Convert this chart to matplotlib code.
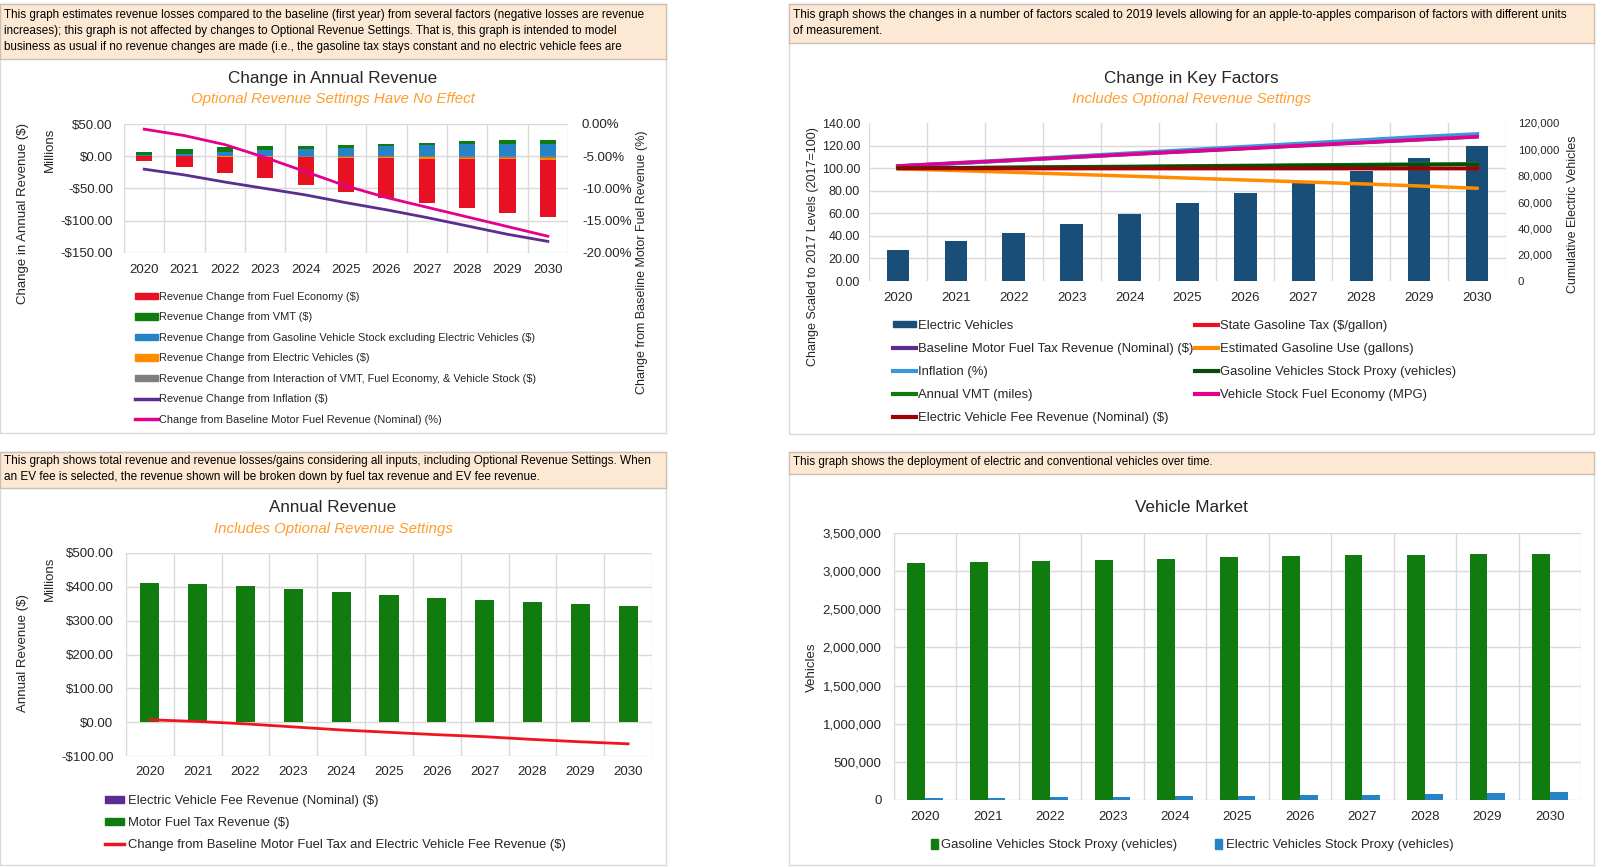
import matplotlib
matplotlib.use('Agg')
import matplotlib.pyplot as plt
from matplotlib.patches import Rectangle, Patch
from matplotlib.lines import Line2D
from matplotlib.ticker import FuncFormatter
import numpy as np

# ============== DATA ==============

years = ['2020', '2021', '2022', '2023', '2024', '2025', '2026', '2027', '2028', '2029', '2030']

# Change in Annual Revenue (millions $)
rev_fuel_economy = [-7.8, -15.6, -24.5, -33.0, -42.5, -52.5, -61.5, -68.5, -76.0, -83.0, -89.0]
rev_vmt = [4.5, 6.5, 7.5, 6.5, 4.5, 4.5, 3.5, 3.5, 4.5, 6.0, 6.0]
rev_stock = [2.5, 4.0, 6.5, 9.0, 11.0, 12.5, 15.5, 17.0, 18.5, 19.0, 19.0]
rev_ev = [0.0, -0.3, -0.6, -1.0, -1.3, -1.6, -1.8, -2.0, -2.3, -2.5, -2.7]
rev_interaction = [0.0, 0.0, -0.2, -0.3, -0.5, -0.8, -1.2, -1.6, -2.0, -2.4, -2.8]
rev_inflation = [-20, -29, -40, -50, -60, -72, -83, -95, -108, -121, -132]
pct_change_baseline = [-0.8, -1.8, -3.2, -5.2, -7.4, -9.6, -11.4, -12.9, -14.4, -15.9, -17.4]

# Change in Key Factors (2017 = 100) and cumulative EVs
ev_cumulative = [23600, 30700, 36800, 43600, 51200, 58900, 67200, 75600, 83700, 93100, 102500]
kf_state_tax = [100.0, 100.0, 100.0, 100.0, 100.0, 100.0, 100.0, 100.0, 100.0, 100.0, 100.0]
kf_baseline_rev = [101.8, 104.3, 106.9, 109.5, 112.1, 114.7, 117.3, 119.9, 122.5, 125.1, 127.7]
kf_gas_use = [99.4, 97.9, 96.3, 94.6, 92.9, 91.2, 89.5, 87.8, 86.1, 84.2, 82.2]
kf_inflation = [101.5, 104.4, 107.2, 110.1, 113.0, 115.9, 118.8, 121.7, 124.6, 127.5, 130.0]
kf_gas_stock = [100.0, 100.3, 100.6, 100.9, 101.2, 101.6, 102.0, 102.4, 102.5, 102.9, 103.2]
kf_vmt = [100.0, 100.4, 100.8, 101.2, 101.6, 102.0, 102.4, 102.8, 103.2, 103.6, 103.9]
kf_fuel_economy = [102.0, 104.5, 107.1, 109.7, 112.3, 114.9, 117.5, 120.1, 122.7, 125.3, 127.9]
kf_ev_fee = [100.0, 100.0, 100.0, 100.0, 100.0, 100.0, 100.0, 100.0, 100.0, 100.0, 100.0]

# Annual Revenue (millions $)
motor_fuel_tax_rev = [412, 409, 403, 394, 386, 377, 368, 362, 356, 350, 344]
ev_fee_rev = [0, 0, 0, 0, 0, 0, 0, 0, 0, 0, 0]
change_total_rev = [7, 2, -5, -14, -23, -30, -37, -43, -51, -58, -64]

# Vehicle Market
gas_vehicles = [3110000, 3124000, 3137000, 3150000, 3163000, 3189000, 3202000, 3215000, 3216000, 3229000, 3229000]
ev_vehicles = [22000, 26000, 34000, 38000, 47000, 56000, 62000, 72000, 76000, 86000, 100000]

notes = [
    "This graph estimates revenue losses compared to the baseline (first year) from several factors (negative losses are revenue\n"
    "increases); this graph is not affected by changes to Optional Revenue Settings. That is, this graph is intended to model\n"
    "business as usual if no revenue changes are made (i.e., the gasoline tax stays constant and no electric vehicle fees are",
    "This graph shows the changes in a number of factors scaled to 2019 levels allowing for an apple-to-apples comparison of factors with different units\n"
    "of measurement.",
    "This graph shows total revenue and revenue losses/gains considering all inputs, including Optional Revenue Settings. When\n"
    "an EV fee is selected, the revenue shown will be broken down by fuel tax revenue and EV fee revenue.",
    "This graph shows the deployment of electric and conventional vehicles over time.",
]

# ============== STYLE ==============

RED = '#E81123'
GREEN = '#107C10'
BLUE = '#2683C6'
ORANGE = '#FF8C00'
GRAY = '#7F7F7F'
PURPLE = '#5C2D91'
PINK = '#E3008C'
NAVY = '#184E77'
LIGHTBLUE = '#3A96DD'
DKGREEN = '#0A4A0A'
DKRED = '#A00000'
LINE_RED = '#F0141E'
GRID = '#D9D9D9'
SUB = '#FF9D2E'
TXT = '#262626'

plt.rcParams['font.family'] = ['Liberation Sans', 'DejaVu Sans']

W, H = 1599, 868
fig = plt.figure(figsize=(W / 100, H / 100), dpi=100)
x = np.arange(len(years))


def fx(px):
    return px / W


def fy(py):
    return 1 - py / H


def frac(l, t, r, b):
    return [l / W, 1 - b / H, (r - l) / W, (b - t) / H]


def rect(l, t, r, b, fc, ec, z):
    fig.patches.append(Rectangle((fx(l), fy(b)), (r - l) / W, (b - t) / H,
                                 transform=fig.transFigure, facecolor=fc,
                                 edgecolor=ec, lw=1, zorder=z))


def dollars(v, pos):
    return f"-${abs(v):,.2f}" if v < 0 else f"${v:,.2f}"


def style(ax, ymin, ymax, step, fmt, size, pad_y, pad_x):
    ax.set_xlim(-0.5, len(years) - 0.5)
    ax.set_ylim(ymin, ymax)
    ax.set_yticks(np.arange(ymin, ymax + step / 2, step))
    ax.yaxis.set_major_formatter(FuncFormatter(fmt))
    ax.set_xticks(x)
    ax.set_xticklabels(years)
    ax.set_xticks(np.arange(-0.5, len(years)), minor=True)
    ax.grid(True, which='minor', axis='x', color=GRID, lw=1)
    ax.grid(True, which='major', axis='y', color=GRID, lw=1)
    ax.grid(False, which='major', axis='x')
    ax.set_axisbelow(True)
    ax.patch.set_alpha(0)
    ax.tick_params(which='both', length=0, labelsize=size, colors=TXT)
    ax.tick_params(axis='y', pad=pad_y)
    ax.tick_params(axis='x', pad=pad_x)
    for s in ax.spines.values():
        s.set_visible(False)


# panels and note boxes
panels = [(0, 4, 666, 433, 59), (789, 4, 1594, 434, 43),
          (0, 452, 666, 865, 488), (789, 452, 1594, 865, 474)]
note_tops = [9, 9, 455, 456]
note_sizes = [8.4, 8.6, 8.5, 8.4]
for (l, t, r, b, nb), note, nt, ns in zip(panels, notes, note_tops, note_sizes):
    rect(l, t, r, b, 'white', GRID, -3)
    rect(l, t, r, nb, '#FDE9D3', '#C9C0B5', -2)
    fig.text(fx(l + 4), fy(nt), note, fontsize=ns,
             va='top', ha='left', color='black', linespacing=1.43)


def title(xc, yt, ys, main, sub):
    fig.text(fx(xc), fy(yt), main, fontsize=12.3, ha='center', va='center', color=TXT)
    if sub:
        fig.text(fx(xc), fy(ys), sub, fontsize=10.8, style='italic',
                 ha='center', va='center', color=SUB)


def vlabel(xc, yc, s, size=9.5):
    fig.text(fx(xc), fy(yc), s, fontsize=size, rotation=90, ha='center',
             va='center', color=TXT)


# ---------- Change in Annual Revenue ----------
ax1 = fig.add_axes(frac(124, 124, 568, 253))
style(ax1, -150, 50, 50, dollars, 9.5, 8, 8)
bw = 0.4
ax1.bar(x, rev_stock, bw, color=BLUE)
ax1.bar(x, rev_vmt, bw, bottom=rev_stock, color=GREEN)
ax1.bar(x, rev_interaction, bw, color=GRAY)
ax1.bar(x, rev_ev, bw, bottom=rev_interaction, color=ORANGE)
ax1.bar(x, rev_fuel_economy, bw,
        bottom=np.array(rev_interaction) + np.array(rev_ev), color=RED)
ax1.plot(x, rev_inflation, color=PURPLE, lw=2)
ax1r = ax1.twinx()
ax1r.plot(x, pct_change_baseline, color=PINK, lw=2)
ax1r.set_ylim(-20, 0)
ax1r.set_yticks(np.arange(-20, 0.1, 5))
ax1r.yaxis.set_major_formatter(FuncFormatter(lambda v, p: f"{v:.2f}%"))
ax1r.tick_params(length=0, labelsize=9.5, colors=TXT, pad=10)
for s in ax1r.spines.values():
    s.set_visible(False)

title(333, 78, 99, 'Change in Annual Revenue', 'Optional Revenue Settings Have No Effect')
vlabel(23, 213, 'Change in Annual Revenue ($)')
vlabel(50, 150, 'Millions')
vlabel(642, 262, 'Change from Baseline Motor Fuel Revenue (%)', 9)

h1 = [Patch(color=RED), Patch(color=GREEN), Patch(color=BLUE), Patch(color=ORANGE),
      Patch(color=GRAY), Line2D([], [], color=PURPLE, lw=2.5), Line2D([], [], color=PINK, lw=2.5)]
l1 = ['Revenue Change from Fuel Economy ($)', 'Revenue Change from VMT ($)',
      'Revenue Change from Gasoline Vehicle Stock excluding Electric Vehicles ($)',
      'Revenue Change from Electric Vehicles ($)',
      'Revenue Change from Interaction of VMT, Fuel Economy, & Vehicle Stock ($)',
      'Revenue Change from Inflation ($)',
      'Change from Baseline Motor Fuel Revenue (Nominal) (%)']
fig.legend(h1, l1, loc='upper left', bbox_to_anchor=(fx(135), fy(292)), frameon=False,
           fontsize=7.9, handlelength=2.1, handleheight=0.55, handletextpad=0.12,
           labelspacing=0.95, borderpad=0, borderaxespad=0, labelcolor=TXT)

# ---------- Change in Key Factors ----------
ax2 = fig.add_axes(frac(869, 123, 1506, 281))
ax2l = ax2.twinx()
style(ax2, 0, 120000, 20000, lambda v, p: f"{v:,.0f}", 8.2, 8.5, 8)
ax2.tick_params(axis='x', labelsize=9.5)
ax2.grid(False, which='major', axis='y')
ax2.set_yticks(np.linspace(0, 120000, 8), minor=True)
ax2.grid(True, which='minor', axis='y', color=GRID, lw=1)
ax2.yaxis.tick_right()
ax2.bar(x, ev_cumulative, 0.39, color=NAVY)

ax2l.yaxis.tick_left()
ax2l.set_ylim(0, 140)
ax2l.set_yticks(np.arange(0, 141, 20))
ax2l.yaxis.set_major_formatter(FuncFormatter(lambda v, p: f"{v:.2f}"))
ax2l.tick_params(length=0, labelsize=9, colors=TXT, pad=6.5)
for s in ax2l.spines.values():
    s.set_visible(False)
lw2 = 2.5
ax2l.plot(x, kf_state_tax, color=RED, lw=lw2)
ax2l.plot(x, kf_baseline_rev, color=PURPLE, lw=lw2)
ax2l.plot(x, kf_inflation, color=LIGHTBLUE, lw=lw2 + 0.6)
ax2l.plot(x, kf_fuel_economy, color=PINK, lw=lw2)
ax2l.plot(x, kf_gas_use, color=ORANGE, lw=lw2)
ax2l.plot(x, kf_vmt, color=GREEN, lw=lw2)
ax2l.plot(x, kf_gas_stock, color=DKGREEN, lw=lw2)
ax2l.plot(x, kf_ev_fee, color=DKRED, lw=lw2)

title(1191, 79, 99, 'Change in Key Factors', 'Includes Optional Revenue Settings')
vlabel(813, 247, 'Change Scaled to 2017 Levels (2017=100)', 9)
vlabel(1573, 214, 'Cumulative Electric Vehicles', 9)

h2 = [Patch(color=NAVY), Line2D([], [], color=PURPLE, lw=3), Line2D([], [], color=LIGHTBLUE, lw=3),
      Line2D([], [], color=GREEN, lw=3), Line2D([], [], color=DKRED, lw=3),
      Line2D([], [], color=RED, lw=3), Line2D([], [], color=ORANGE, lw=3),
      Line2D([], [], color=DKGREEN, lw=3), Line2D([], [], color=PINK, lw=3)]
l2 = ['Electric Vehicles', 'Baseline Motor Fuel Tax Revenue (Nominal) ($)', 'Inflation (%)',
      'Annual VMT (miles)', 'Electric Vehicle Fee Revenue (Nominal) ($)',
      'State Gasoline Tax ($/gallon)', 'Estimated Gasoline Use (gallons)',
      'Gasoline Vehicles Stock Proxy (vehicles)', 'Vehicle Stock Fuel Economy (MPG)']
fig.legend(h2, l2, loc='upper left', bbox_to_anchor=(fx(893), fy(320)), frameon=False, ncol=2,
           fontsize=9.35, handlelength=1.77, handleheight=0.35, handletextpad=0.15,
           labelspacing=0.85, columnspacing=0.1, borderpad=0, borderaxespad=0, labelcolor=TXT)

# ---------- Annual Revenue ----------
ax3 = fig.add_axes(frac(126, 553, 652, 756))
style(ax3, -100, 500, 100, dollars, 9.5, 9, 7.5)
ax3.bar(x, motor_fuel_tax_rev, 0.4, color=GREEN)
ax3.bar(x, ev_fee_rev, 0.4, bottom=motor_fuel_tax_rev, color=PURPLE, lw=0)
ax3.plot(x, change_total_rev, color=LINE_RED, lw=2)

title(333, 508, 529, 'Annual Revenue', 'Includes Optional Revenue Settings')
vlabel(23, 653, 'Annual Revenue ($)')
vlabel(50, 579, 'Millions')

h3 = [Patch(color=PURPLE), Patch(color=GREEN), Line2D([], [], color=LINE_RED, lw=2.5)]
l3 = ['Electric Vehicle Fee Revenue (Nominal) ($)', 'Motor Fuel Tax Revenue ($)',
      'Change from Baseline Motor Fuel Tax and Electric Vehicle Fee Revenue ($)']
fig.legend(h3, l3, loc='upper left', bbox_to_anchor=(fx(105), fy(795)), frameon=False,
           fontsize=9.4, handlelength=1.45, handleheight=0.45, handletextpad=0.3,
           labelspacing=0.76, borderpad=0, borderaxespad=0, labelcolor=TXT)

# ---------- Vehicle Market ----------
ax4 = fig.add_axes(frac(894, 533, 1581, 800))
style(ax4, 0, 3500000, 500000, lambda v, p: f"{v:,.0f}", 9.5, 9, 8)
w = 0.285
ax4.bar(x - w / 2, gas_vehicles, w, color=GREEN)
ax4.bar(x + w / 2, ev_vehicles, w, color=BLUE)

title(1191, 507, None, 'Vehicle Market', None)
vlabel(812, 667, 'Vehicles')

h4 = [Patch(color=GREEN), Patch(color=BLUE)]
l4 = ['Gasoline Vehicles Stock Proxy (vehicles)', 'Electric Vehicles Stock Proxy (vehicles)']
fig.legend(h4, l4, loc='upper left', bbox_to_anchor=(fx(931), fy(839)), frameon=False, ncol=2,
           fontsize=9.4, handlelength=0.5, handleheight=0.75, handletextpad=0.3,
           columnspacing=2.9, borderpad=0, borderaxespad=0, labelcolor=TXT)

fig.savefig('out.png', dpi=100)
